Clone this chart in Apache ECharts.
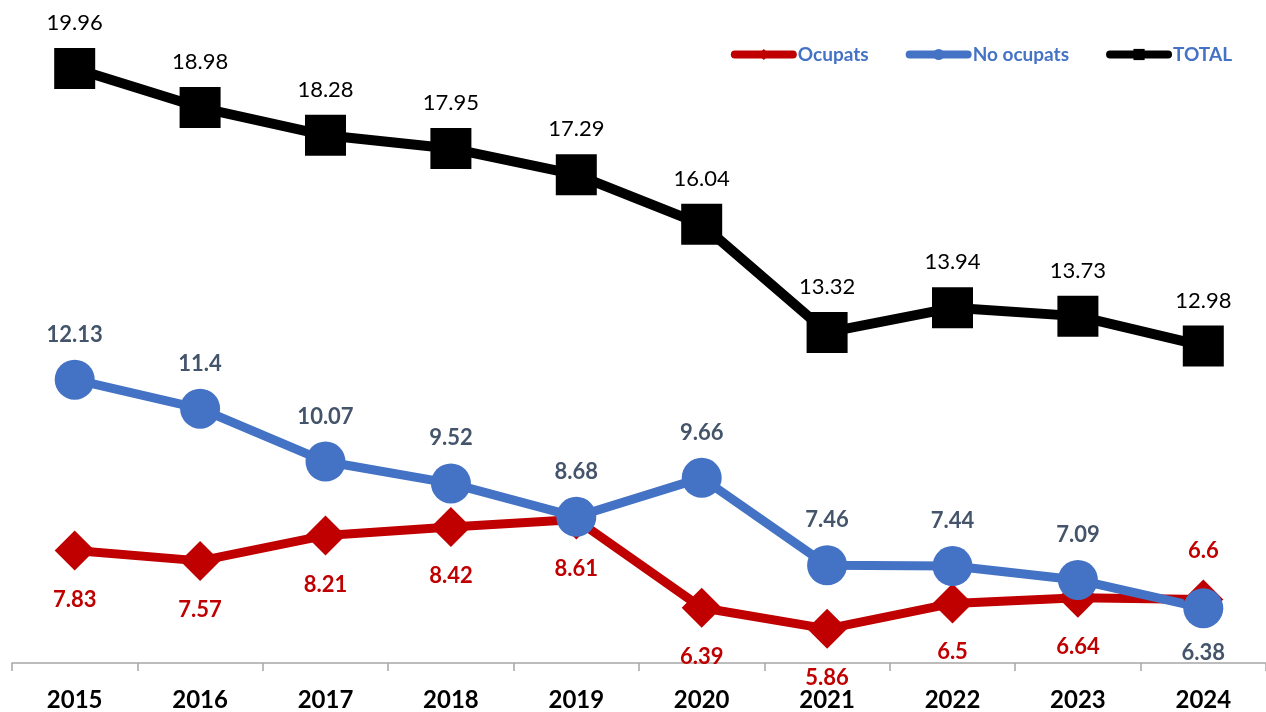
<!DOCTYPE html>
<html>
<head>
<meta charset="utf-8">
<style>
  html, body { margin: 0; padding: 0; background: #fff; }
  #chart { width: 1266px; height: 712px; }
</style>
<script src="https://cdn.jsdelivr.net/npm/echarts@6/dist/echarts.min.js"></script>
</head>
<body>
<div id="chart"></div>
<script>
// anys i valors llegits del gràfic
const years = ['2015', '2016', '2017', '2018', '2019', '2020', '2021', '2022', '2023', '2024'];
const ocupats = [7.83, 7.57, 8.21, 8.42, 8.61, 6.39, 5.86, 6.5, 6.64, 6.6];
const noOcupats = [12.13, 11.4, 10.07, 9.52, 8.68, 9.66, 7.46, 7.44, 7.09, 6.38];
const total = [19.96, 18.98, 18.28, 17.95, 17.29, 16.04, 13.32, 13.94, 13.73, 12.98];

const FONT = 'Lato, "Open Sans", sans-serif';

// posició de l'etiqueta per a cada punt
function withLabels(values, defPos, exceptions) {
    return values.map((v, i) => {
        const pos = exceptions[i] || defPos;
        return { value: v, label: { position: pos } };
    });
}

const chart = echarts.init(document.getElementById('chart'));
chart.setOption({
    animation: false,
    backgroundColor: '#fff',
    legend: {
        right: 29,
        top: 40,
        itemGap: 37,
        itemWidth: 58,
        itemHeight: 14,
        lineStyle: { width: 8, cap: 'round' },
        textStyle: { color: '#4472C4', fontWeight: 'bold', fontSize: 19, fontFamily: FONT },
        data: ['Ocupats', 'No ocupats', 'TOTAL']
    },
    grid: { left: 12, width: 1261, top: 67, bottom: 48 },
    xAxis: {
        type: 'category',
        data: years,
        boundaryGap: true,
        axisLine: { lineStyle: { color: '#a6a6a6', width: 1.5 } },
        axisTick: { show: true, length: 8, lineStyle: { color: '#a6a6a6', width: 1.5 } },
        axisLabel: { color: '#000', fontWeight: 'bold', fontSize: 24, fontFamily: FONT, margin: 25 }
    },
    yAxis: {
        type: 'value',
        min: 5,
        max: 20,
        show: false,
        splitLine: { show: false }
    },
    series: [
        {
            name: 'Ocupats',
            type: 'line',
            data: withLabels(ocupats, 'bottom', { 9: 'top' }),
            symbol: 'diamond',
            symbolSize: [40, 40],
            lineStyle: { color: '#C00000', width: 9 },
            itemStyle: { color: '#C00000' },
            label: {
                show: true, distance: 18,
                color: '#C00000', fontWeight: 'bold', fontSize: 22, fontFamily: FONT
            }
        },
        {
            name: 'No ocupats',
            type: 'line',
            data: withLabels(noOcupats, 'top', { 9: 'bottom' }),
            symbol: 'circle',
            symbolSize: 40,
            lineStyle: { color: '#4472C4', width: 9 },
            itemStyle: { color: '#4472C4' },
            label: {
                show: true, distance: 14,
                color: '#44546A', fontWeight: 'bold', fontSize: 22, fontFamily: FONT
            }
        },
        {
            name: 'TOTAL',
            type: 'line',
            data: total,
            symbol: 'rect',
            symbolSize: 41,
            lineStyle: { color: '#000', width: 10 },
            itemStyle: { color: '#000' },
            label: {
                show: true, position: 'top', distance: 14,
                color: '#000', fontSize: 22, fontFamily: FONT
            }
        }
    ]
});
</script>
</body>
</html>
